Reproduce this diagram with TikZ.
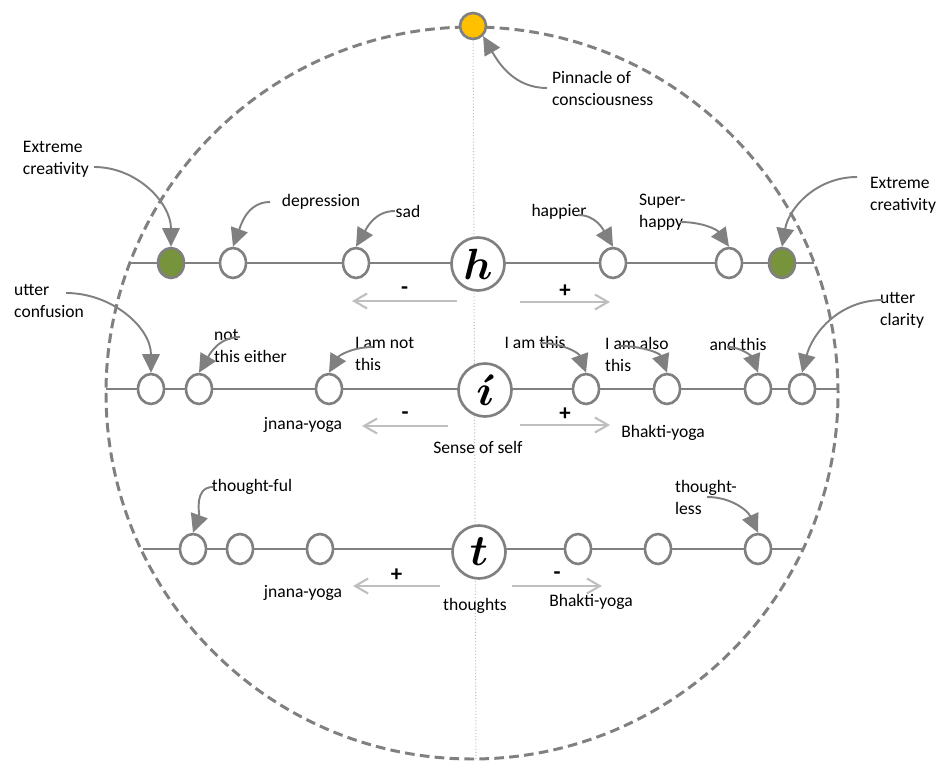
\documentclass[tikz,border=0pt]{standalone}
\usepackage{fontspec}
\setmainfont{Carlito}
\usepackage{tikz}
\usetikzlibrary{arrows.meta,shapes.geometric}
\definecolor{linegray}{RGB}{128,128,128}
\definecolor{lightarrow}{RGB}{191,191,191}
\definecolor{extremegreen}{RGB}{119,147,60}
\definecolor{pinnacleyellow}{RGB}{255,192,0}
\tikzset{
  level/.style={ellipse,draw=linegray,line width=1.5pt,fill=white,
    minimum width=0.52cm,minimum height=0.6cm,inner sep=0pt},
  extreme/.style={level,fill=extremegreen},
  pinnacle/.style={circle,draw=linegray,line width=1.5pt,fill=pinnacleyellow,
    minimum size=0.52cm,inner sep=0pt},
  axisnode/.style={circle,draw=linegray,line width=1.5pt,fill=white,
    minimum size=1.06cm,inner sep=0pt,font=\Huge\boldmath},
  axisline/.style={draw=linegray,line width=1.2pt},
  centreline/.style={draw=lightarrow,line width=0.6pt,dash pattern=on 0.6pt off 1.2pt},
  boundary/.style={draw=linegray,line width=1.7pt,dash pattern=on 5.5pt off 3pt},
  callout/.style={-{Triangle[length=0.37cm,width=0.35cm]},linegray,line width=1.1pt},
  direction/.style={-{Straight Barb[length=0.26cm,width=0.3cm]},lightarrow,line width=1.2pt},
  tag/.style={font=\fontsize{10}{12.5}\selectfont,align=left,inner sep=1pt},
  sign/.style={font=\fontsize{13}{13}\selectfont\bfseries,text=black,inner sep=1pt}
}

\begin{document}
\begin{tikzpicture}[x=0.02cm,y=0.02cm]
  \useasboundingbox (0,0) rectangle (945,774);
  % boundary circle and centre axis
  \draw[boundary] (472,381) circle[radius=366];
  \node[pinnacle] (pin) at (473,748) {};
  \coordinate (vBot) at (476,15);
  \draw[centreline] (pin) -- (vBot);

  % happiness row
  \coordinate (hL) at (130,511);
  \coordinate (hR) at (814,511);
  \draw[axisline] (hL) -- (hR);
  \node[extreme] (hExtL) at (171,511) {};
  \node[level] (hDep) at (233,511) {};
  \node[level] (hSad) at (356,511) {};
  \node[axisnode] (h) at (478,510) {$h$};
  \node[level] (hHap) at (613,511) {};
  \node[level] (hSup) at (729,511) {};
  \node[extreme] (hExtR) at (782,511) {};

  \node[tag,anchor=east] (lblExtL) at (91,615) {Extreme\\creativity};
  \node[tag] (lblDep) at (321,572) {depression};
  \node[tag] (lblSad) at (408,563) {sad};
  \node[tag] (lblHap) at (559,562) {happier};
  \node[tag,anchor=west] (lblSup) at (637,562) {Super-\\happy};
  \node[tag,anchor=west] (lblExtR) at (868,579) {Extreme\\creativity};
  \node[tag,anchor=west] (lblPin) at (550,686) {Pinnacle of\\consciousness};

  \coordinate (cExtL) at (94,607);
  \coordinate (cDep) at (270,572);
  \coordinate (cSad) at (395,563);
  \coordinate (cHap) at (578,559);
  \coordinate (cSup) at (680,552);
  \coordinate (cExtR) at (857,597);
  \coordinate (cPin) at (547,686);
  \draw[callout] (cExtL) to[out=0,in=90] (hExtL.north);
  \draw[callout] (cDep) to[out=180,in=70] (hDep.north);
  \draw[callout] (cSad) to[out=180,in=60] (hSad.north);
  \draw[callout] (cHap) to[out=0,in=120] (hHap.north);
  \draw[callout] (cSup) to[out=0,in=125] (hSup.north);
  \draw[callout] (cExtR) to[out=180,in=80] (hExtR.north);
  \draw[callout] (cPin) to[out=180,in=-60] (pin.south east);

  \coordinate (hNegS) at (457,473);
  \coordinate (hNegE) at (352,473);
  \coordinate (hPosS) at (520,472);
  \coordinate (hPosE) at (610,472);
  \draw[direction] (hNegS) -- node[sign,above=2pt] (hMinus) {-} (hNegE);
  \draw[direction] (hPosS) -- node[sign,above=1pt] (hPlus) {+} (hPosE);

  % sense of self row
  \coordinate (iL) at (106,385);
  \coordinate (iR) at (838,385);
  \draw[axisline] (iL) -- (iR);
  \node[level] (iConf) at (151,385) {};
  \node[level] (iNot) at (199,385) {};
  \node[level] (iNotThis) at (329,385) {};
  \node[axisnode] (i) at (485,384) {$\acute{\imath}$};
  \node[level] (iThis) at (586,385) {};
  \node[level] (iAlso) at (667,385) {};
  \node[level] (iAnd) at (758,385) {};
  \node[level] (iClar) at (802,385) {};

  \node[tag,anchor=east] (lblConf) at (86,473) {utter\\confusion};
  \node[tag,anchor=west] (lblNot) at (212,428) {not\\this either};
  \node[tag,anchor=west] (lblNotThis) at (353,420) {I am not\\this};
  \node[tag] (lblThis) at (535,432) {I am this};
  \node[tag,anchor=west] (lblAlso) at (603,420) {I am also\\this};
  \node[tag] (lblAnd) at (738,430) {and this};
  \node[tag,anchor=west] (lblClar) at (878,464) {utter\\clarity};

  \coordinate (cConf) at (66,481);
  \coordinate (cNot) at (240,437);
  \coordinate (cNotThis) at (373,427);
  \coordinate (cThis) at (540,431);
  \coordinate (cAlso) at (620,428);
  \coordinate (cAnd) at (727,427);
  \coordinate (cClar) at (883,474);
  \draw[callout] (cConf) to[out=0,in=90] (iConf.north);
  \draw[callout] (cNot) to[out=180,in=60] (iNot.north);
  \draw[callout] (cNotThis) to[out=180,in=60] (iNotThis.north);
  \draw[callout] (cThis) to[out=0,in=110] (iThis.north);
  \draw[callout] (cAlso) to[out=0,in=110] (iAlso.north);
  \draw[callout] (cAnd) to[out=0,in=110] (iAnd.north);
  \draw[callout] (cClar) to[out=180,in=75] (iClar.north);

  \coordinate (iNegS) at (448,348);
  \coordinate (iNegE) at (362,348);
  \coordinate (iPosS) at (520,349);
  \coordinate (iPosE) at (610,349);
  \draw[direction] (iNegS) -- node[sign,above=2pt] (iMinus) {-} (iNegE);
  \draw[direction] (iPosS) -- node[sign,above=1pt] (iPlus) {+} (iPosE);
  \node[tag] (iJnana) at (303,349) {jnana-yoga};
  \node[tag] (iBhakti) at (663,341) {Bhakti-yoga};
  \node[tag] (iSelf) at (478,327) {Sense of self};

  % thoughts row
  \coordinate (tL) at (143,225);
  \coordinate (tR) at (804,225);
  \draw[axisline] (tL) -- (tR);
  \node[level] (tFul) at (193,225) {};
  \node[level] (tB) at (240,225) {};
  \node[level] (tC) at (320,225) {};
  \node[axisnode] (t) at (479,222) {$t$};
  \node[level] (tD) at (578,225) {};
  \node[level] (tE) at (658,225) {};
  \node[level] (tLess) at (758,225) {};

  \node[tag] (lblFul) at (252,287) {thought-ful};
  \node[tag,anchor=west] (lblLess) at (673,277) {thought-\\less};
  \coordinate (cFul) at (213,287);
  \coordinate (cLess) at (707,277);
  \draw[callout] (cFul) to[out=180,in=70] (tFul.north);
  \draw[callout] (cLess) to[out=0,in=115] (tLess.north);

  \coordinate (tPosS) at (440,188);
  \coordinate (tPosE) at (353,188);
  \coordinate (tNegS) at (512,188);
  \coordinate (tNegE) at (602,188);
  \draw[direction] (tPosS) -- node[sign,above=1pt] (tPlus) {+} (tPosE);
  \draw[direction] (tNegS) -- node[sign,above=2pt] (tMinus) {-} (tNegE);
  \node[tag] (tJnana) at (303,181) {jnana-yoga};
  \node[tag] (tThoughts) at (475,168) {thoughts};
  \node[tag] (tBhakti) at (591,172) {Bhakti-yoga};
\end{tikzpicture}
\end{document}
